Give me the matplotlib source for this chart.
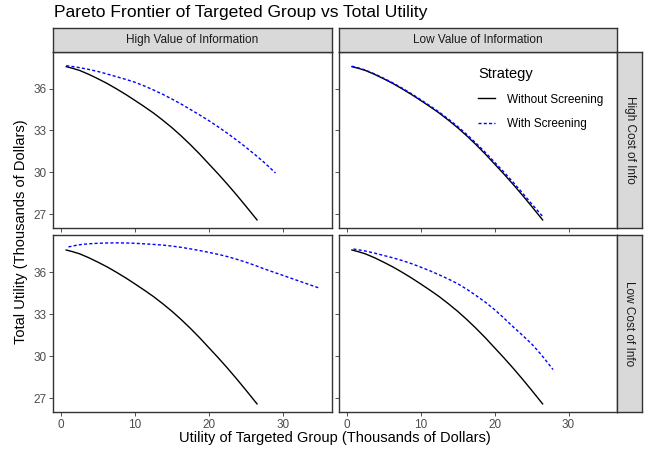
import matplotlib
matplotlib.use("Agg")
import matplotlib.pyplot as plt
from matplotlib.lines import Line2D

plt.rcParams["font.family"] = ["Liberation Sans", "DejaVu Sans"]

# ----------------------------------------------------------------------
# Data, thousands of dollars
# ----------------------------------------------------------------------
cols = ["High Value of Information", "Low Value of Information"]
rows = ["High Cost of Info", "Low Cost of Info"]
strategies = ["Without Screening", "With Screening"]

# "Without Screening" is the same curve in every panel
without_x = [0.7, 1.5, 2.5, 3.75, 5, 6.25, 7.5, 8.75, 10, 11.25, 12.5, 13.75, 15,
             16.25, 17.5, 18.75, 20, 21.25, 22.5, 23.75, 25, 26.5]
without_y = [37.57, 37.46, 37.3, 37.02, 36.7, 36.36, 35.98, 35.58, 35.15, 34.71, 34.25,
             33.74, 33.2, 32.61, 31.98, 31.31, 30.6, 29.89, 29.15, 28.38, 27.58, 26.6]

# "With Screening", one per panel
with_hv_hc_x = [0.7, 1.5, 2.5, 3.75, 5, 6.25, 7.5, 8.75, 10, 11.25, 12.5, 13.75, 15,
                16.25, 17.5, 18.75, 20, 21.25, 22.5, 23.75, 25, 26.25, 27.5, 29.0]
with_hv_hc_y = [37.64, 37.58, 37.5, 37.37, 37.22, 37.04, 36.85, 36.66, 36.45, 36.19, 35.9,
                35.59, 35.25, 34.89, 34.5, 34.11, 33.7, 33.26, 32.8, 32.31, 31.8, 31.26,
                30.7, 29.96]

with_lv_hc_x = [0.7, 1.5, 2.5, 3.75, 5, 6.25, 7.5, 8.75, 10, 11.25, 12.5, 13.75, 15,
                16.25, 17.5, 18.75, 20, 21.25, 22.5, 23.75, 25, 26.6]
with_lv_hc_y = [37.6, 37.49, 37.33, 37.05, 36.74, 36.4, 36.03, 35.63, 35.21, 34.77, 34.32,
                33.82, 33.29, 32.71, 32.09, 31.43, 30.73, 30.03, 29.3, 28.54, 27.76, 26.79]

with_hv_lc_x = [1.0, 2, 3, 4, 5, 6.25, 7.5, 8.75, 10, 11.25, 12.5, 13.75, 15, 16.25,
                17.5, 18.75, 20, 21.25, 22.5, 23.75, 25, 26.25, 27.5, 28.75, 30, 31.25,
                32.5, 33.75, 34.9]
with_hv_lc_y = [37.79, 37.9, 37.98, 38.02, 38.05, 38.07, 38.08, 38.07, 38.05, 38.01, 37.97,
                37.92, 37.85, 37.76, 37.65, 37.53, 37.4, 37.26, 37.1, 36.91, 36.7, 36.47,
                36.22, 35.99, 35.76, 35.53, 35.3, 35.07, 34.86]

with_lv_lc_x = [0.9, 1.5, 2.5, 3.75, 5, 6.25, 7.5, 8.75, 10, 11.25, 12.5, 13.75, 15,
                16.25, 17.5, 18.75, 20, 21.25, 22.5, 23.75, 25, 26.25, 27.9]
with_lv_lc_y = [37.64, 37.59, 37.5, 37.35, 37.18, 37.01, 36.82, 36.6, 36.35, 36.09, 35.8,
                35.5, 35.17, 34.77, 34.32, 33.85, 33.32, 32.72, 32.1, 31.5, 30.88, 30.15,
                29.05]

with_data = {
    (0, 0): (with_hv_hc_x, with_hv_hc_y),
    (0, 1): (with_lv_hc_x, with_lv_hc_y),
    (1, 0): (with_hv_lc_x, with_hv_lc_y),
    (1, 1): (with_lv_lc_x, with_lv_lc_y),
}

x_ticks = [0, 10, 20, 30]
y_ticks = [27, 30, 33, 36]

# ----------------------------------------------------------------------
# Layout in pixels (figure is 649 x 453)
# ----------------------------------------------------------------------
W, H = 649, 453
col_x = [(53.3, 331.7), (339.0, 617.3)]
row_y = [(51.7, 228.3), (235.0, 412.3)]
strip_top = (28.3, 51.7)
strip_right = (617.3, 641.7)

edge = "#333333"
tick_col = "#4D4D4D"
strip_fill = "#D9D9D9"
blue_dash = (2.2, 1.6)


def rect(x0, x1, y0, y1):
    return [x0 / W, 1 - y1 / H, (x1 - x0) / W, (y1 - y0) / H]


def style_box(a):
    for s in a.spines.values():
        s.set_color(edge)
        s.set_linewidth(1.0)


fig = plt.figure(figsize=(W / 100, H / 100), dpi=100)

axes = {}
for r in range(2):
    for c in range(2):
        ax = fig.add_axes(rect(*col_x[c], *row_y[r]))
        axes[(r, c)] = ax
        ax.plot(without_x, without_y, color="black", lw=1.0)
        wx, wy = with_data[(r, c)]
        ax.plot(wx, wy, color="#0000FF", lw=1.0, dashes=blue_dash)
        ax.set_xlim(-1.05, 36.6)
        ax.set_ylim(26.0, 38.64)
        ax.set_xticks(x_ticks)
        ax.set_yticks(y_ticks)
        ax.tick_params(length=2.7, width=0.6, color=edge, labelcolor=tick_col,
                       labelsize=8.5, pad=2)
        if c == 1:
            ax.tick_params(labelleft=False)
        if r == 0:
            ax.tick_params(labelbottom=False)
        style_box(ax)

# top strips
for c in range(2):
    sa = fig.add_axes(rect(*col_x[c], *strip_top))
    sa.set_facecolor(strip_fill)
    sa.set_xticks([])
    sa.set_yticks([])
    style_box(sa)
    sa.text(0.5, 0.5, cols[c], ha="center", va="center", fontsize=8.5,
            color="#1A1A1A", transform=sa.transAxes)

# right strips
for r in range(2):
    sa = fig.add_axes(rect(*strip_right, *row_y[r]))
    sa.set_facecolor(strip_fill)
    sa.set_xticks([])
    sa.set_yticks([])
    style_box(sa)
    sa.text(0.5, 0.5, rows[r], ha="center", va="center", fontsize=8.5,
            color="#1A1A1A", rotation=-90, transform=sa.transAxes)

# titles
fig.text(54 / W, 1 - 13 / H, "Pareto Frontier of Targeted Group vs Total Utility",
         ha="left", va="center", fontsize=12.6, color="black")
fig.text(335 / W, 1 - 438 / H, "Utility of Targeted Group (Thousands of Dollars)",
         ha="center", va="center", fontsize=10.5, color="black")
fig.text(21 / W, 1 - 232 / H, "Total Utility (Thousands of Dollars)",
         ha="center", va="center", fontsize=10.5, rotation=90, color="black")

# legend inside the top-right panel
handles = [Line2D([], [], color="black", lw=1.0),
           Line2D([], [], color="#0000FF", lw=1.0, dashes=blue_dash)]
leg = axes[(0, 1)].legend(handles, strategies, title="Strategy", loc="upper left",
                          bbox_to_anchor=(0.47, 0.96), frameon=False, fontsize=8.5,
                          title_fontsize=10.5, handlelength=1.45, handletextpad=1.0,
                          labelspacing=1.05, borderpad=0.2)
leg._legend_box.align = "left"
leg._legend_box.sep = 9

fig.savefig("out.png", dpi=100)
